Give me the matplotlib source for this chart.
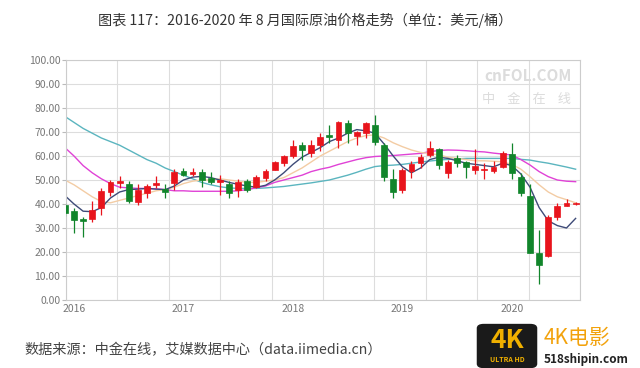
import matplotlib.pyplot as plt
from matplotlib.patches import FancyBboxPatch
import numpy as np

plt.rcParams['font.family'] = ['Noto Sans CJK SC', 'DejaVu Sans']

# month index: -1 = 2015-12 ... 55 = 2020-08
months = list(range(-1, 56))

opens  = [39.6, 37.1, 33.7, 33.8, 38.3, 45.1, 48.6, 48.3, 41.0, 44.7, 47.9, 46.25, 48.6,
          53.75, 52.5, 53.5, 50.7, 49.3, 48.2, 45.8, 49.6, 47.2, 50.7, 54.2, 57.2,
          60.0, 64.6, 61.1, 64.6, 68.75, 66.7, 73.6, 68.3, 69.4, 72.9, 64.6, 50.3,
          45.8, 53.75, 57.2, 60.4, 62.8, 53.0, 59.3, 57.4, 54.2, 54.0, 53.75, 55.6,
          60.8, 51.4, 43.3, 19.7, 18.3, 34.4, 39.2, 39.9]
highs  = [40.5, 38.2, 34.6, 41.4, 46.5, 50.0, 51.5, 49.5, 48.5, 48.3, 51.5, 48.5, 54.5,
          55.2, 54.9, 54.5, 53.5, 52.0, 49.5, 50.5, 50.5, 52.2, 54.5, 58.0, 60.5,
          66.7, 66.0, 66.5, 69.5, 72.9, 74.5, 75.0, 70.5, 74.0, 77.0, 65.5, 54.5,
          55.0, 57.8, 60.8, 66.4, 63.5, 58.5, 60.5, 58.0, 62.8, 57.0, 58.0, 62.0,
          65.3, 53.0, 48.5, 29.2, 35.5, 40.5, 42.0, 41.0]
lows   = [35.0, 27.9, 26.2, 32.5, 35.5, 43.5, 46.5, 40.5, 39.5, 42.5, 46.5, 42.5, 45.8,
          51.5, 51.5, 47.0, 48.5, 43.75, 42.4, 43.0, 45.2, 46.5, 49.5, 54.0, 56.0,
          59.0, 58.3, 59.5, 62.0, 65.5, 63.5, 65.5, 64.5, 67.5, 64.5, 49.5, 42.4,
          44.5, 51.0, 55.0, 59.5, 54.5, 50.7, 55.5, 50.7, 52.5, 50.5, 53.0, 55.0,
          50.5, 43.5, 19.7, 6.7, 18.0, 33.5, 39.0, 39.5]
closes = [36.3, 33.3, 33.0, 37.5, 45.5, 49.3, 49.7, 41.4, 45.8, 47.5, 48.6, 44.9, 53.5,
          52.1, 53.5, 50.0, 49.3, 50.0, 44.4, 49.3, 45.8, 51.4, 53.9, 57.6, 60.0,
          64.2, 62.5, 64.6, 68.0, 68.0, 74.3, 69.7, 70.1, 73.6, 66.0, 51.4, 45.1,
          54.2, 56.5, 59.7, 63.2, 56.25, 57.6, 57.0, 55.3, 55.8, 54.6, 55.6, 61.1,
          52.8, 44.7, 19.7, 14.6, 34.7, 39.3, 40.3, 40.4]

ma5  = [43.5, 40.0, 37.0, 36.8, 38.5, 42.5, 45.0, 46.0, 46.2, 46.5, 46.2, 46.0, 47.5,
        50.0, 51.2, 51.5, 51.0, 50.0, 49.0, 48.2, 47.5, 47.0, 47.8, 50.0, 53.0,
        56.5, 59.5, 61.5, 63.5, 66.0, 67.5, 69.5, 71.0, 70.5, 69.5, 65.0, 60.0,
        55.5, 53.0, 55.0, 58.5, 59.5, 59.0, 58.0, 57.0, 56.5, 56.0, 55.5, 57.0,
        56.0, 52.5, 47.0, 38.5, 33.0, 31.0, 30.0, 34.0]
ma10 = [50.0, 48.0, 45.5, 43.0, 41.0, 40.5, 41.5, 42.5, 43.5, 44.5, 45.5, 46.0, 47.0,
        48.5, 49.5, 50.0, 50.0, 50.5, 50.0, 49.5, 49.0, 49.0, 49.5, 50.0, 51.0,
        53.0, 55.0, 57.5, 60.0, 62.0, 64.0, 66.0, 67.5, 68.5, 68.8, 67.5, 65.5,
        63.9, 62.5, 61.5, 61.0, 60.5, 59.5, 59.0, 58.5, 58.0, 58.0, 57.8, 57.6,
        56.5, 54.5, 51.4, 48.0, 45.0, 43.0, 41.8, 40.5]
ma20 = [63.5, 60.0, 56.0, 53.0, 50.5, 48.5, 47.0, 46.7, 46.5, 46.5, 46.3, 46.0, 45.5,
        45.5, 45.3, 45.3, 45.3, 45.3, 45.3, 45.5, 46.0, 46.8, 47.5, 49.0, 50.0,
        51.0, 52.0, 53.5, 54.5, 55.3, 56.5, 57.5, 58.5, 59.3, 59.8, 60.0, 60.2,
        60.5, 60.8, 61.1, 61.8, 62.3, 62.5, 62.4, 62.2, 61.9, 61.7, 61.2, 60.8,
        60.4, 58.5, 56.25, 53.5, 51.4, 50.0, 49.5, 49.3]
ma60 = [76.5, 74.0, 71.5, 69.5, 67.5, 66.0, 64.5, 62.5, 60.5, 58.5, 57.0, 55.0, 53.5,
        52.0, 50.5, 49.0, 48.0, 47.2, 46.7, 46.5, 46.5, 46.5, 46.7, 47.0, 47.3,
        47.8, 48.3, 48.8, 49.4, 50.0, 51.0, 52.0, 53.2, 54.5, 55.6, 56.0, 56.2,
        56.5, 57.0, 57.5, 57.9, 58.3, 58.6, 58.8, 59.0, 59.0, 59.0, 59.0, 59.0,
        59.0, 58.6, 58.3, 57.6, 57.0, 56.2, 55.4, 54.5]

year_pos = [0, 12, 24, 36, 48]
year_labels = ['2016', '2017', '2018', '2019', '2020']

red = '#e8141c'
green = '#11852b'

fig = plt.figure(figsize=(6.4, 3.68), dpi=100)
ax = fig.add_axes([66/640, 1 - 300/368, 514/640, 240/368])

x = np.array(months)
ax.plot(x, ma60, color='#5bb5bf', lw=1.0, zorder=2)
ax.plot(x, ma20, color='#e042d6', lw=1.0, zorder=2)
ax.plot(x, ma10, color='#f3cca4', lw=1.0, zorder=2)
ax.plot(x, ma5, color='#3e4b78', lw=1.0, zorder=2)

w = 0.64
for i, o, h, l, c in zip(months, opens, highs, lows, closes):
    col = red if c >= o else green
    ax.vlines(i, l, h, color=col, lw=0.9, zorder=3)
    bottom = min(o, c)
    height = max(abs(c - o), 0.4)
    ax.bar(i, height, bottom=bottom, width=w, color=col, edgecolor=col,
           linewidth=0.5, zorder=4)

ax.set_xlim(-0.877, 55.48)
ax.set_ylim(0, 100)
ax.set_yticks(np.arange(0, 101, 10))
ax.set_yticklabels(['%.2f' % v for v in np.arange(0, 101, 10)])
ax.set_xticks(year_pos)
ax.set_xticklabels(year_labels)
ax.set_xticks(np.linspace(-0.877, 55.48, 11), minor=True)
ax.grid(axis='y', color='#dddddd', lw=0.8, zorder=0)
ax.grid(axis='x', which='minor', color='#dddddd', lw=0.8, zorder=0)
ax.tick_params(axis='x', which='both', length=0, labelsize=7.5, colors='#777777', pad=3)
ax.tick_params(axis='y', length=3, color='#bbbbbb', labelsize=7.5, colors='#777777', pad=1)
for s in ax.spines.values():
    s.set_color('#cccccc')
    s.set_linewidth(0.8)
ax.set_axisbelow(True)

# watermark inside the plot
ax.text(0.983, 0.935, 'cnFOL.COM', transform=ax.transAxes, ha='right', va='center',
        fontsize=11, color='#dcdcdc', fontweight='bold', zorder=1)
ax.text(0.983, 0.835, '中    金    在    线', transform=ax.transAxes, ha='right', va='center',
        fontsize=9.5, color='#dcdcdc', zorder=1)

fig.text(0.477, 1 - 20/368, '图表 117：2016-2020 年 8 月国际原油价格走势（单位：美元/桶）',
         ha='center', va='center', fontsize=10.2, color='#333333')
fig.text(24/640, 1 - 350/368, '数据来源：中金在线，艾媒数据中心（data.iimedia.cn）',
         ha='left', va='center', fontsize=10.2, color='#444444')

# site logo at bottom right
fig.patches.append(FancyBboxPatch((480/640, 1 - 366/368), 54/640, 40/368,
                                  boxstyle='round,pad=0.004,rounding_size=0.01',
                                  transform=fig.transFigure, fc='#1a1a1a', ec='#1a1a1a'))
fig.text(507/640, 1 - 340/368, '4K', ha='center', va='center', fontsize=19,
         fontweight='bold', color='#f0b000')
fig.text(507/640, 1 - 359/368, 'ULTRA HD', ha='center', va='center', fontsize=5,
         fontweight='bold', color='#f0b000')
fig.text(544/640, 1 - 338/368, '4K电影', ha='left', va='center', fontsize=15,
         color='#f2a20c')
fig.text(544/640, 1 - 360/368, '518shipin.com', ha='left', va='center', fontsize=8.5,
         fontweight='bold', color='#222222')

fig.savefig('out.png', dpi=100)
